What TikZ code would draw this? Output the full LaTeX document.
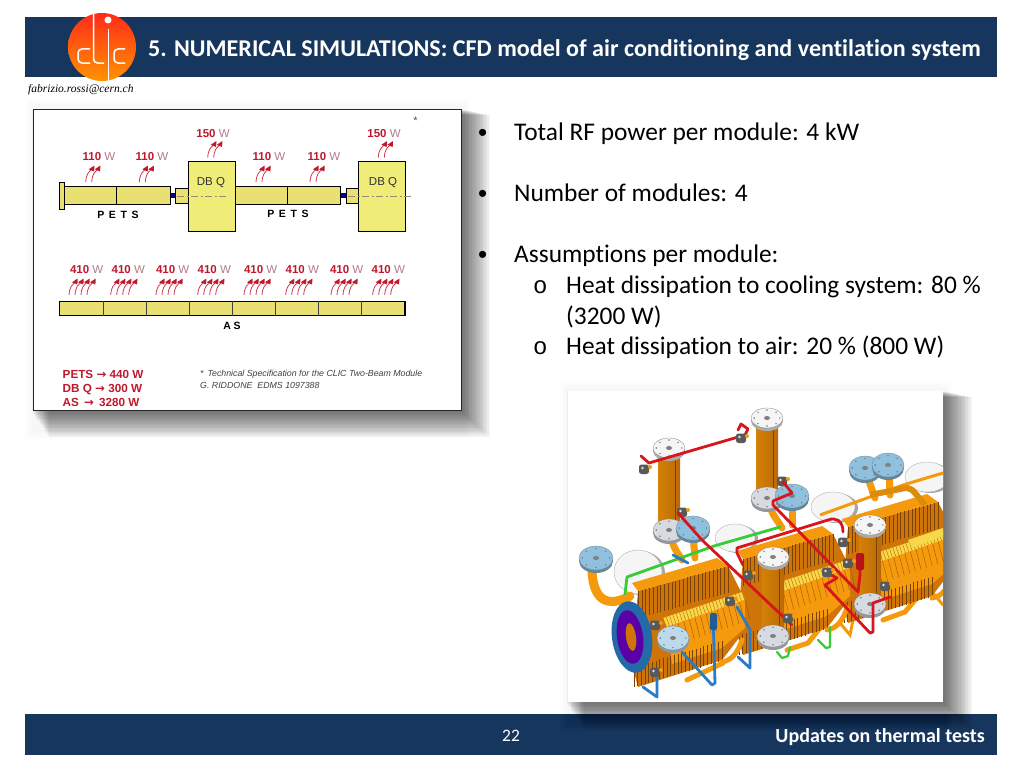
\documentclass[tikz,border=0pt]{standalone}
\usepackage{fontspec}
\setmainfont[Ligatures=NoCommon]{Carlito}
\newfontfamily\diagfont{Liberation Sans}
\newfontfamily\mailfont{Liberation Serif}
\newfontfamily\monofont{Liberation Mono}
\newfontfamily\arrowfont{DejaVu Sans}
\usetikzlibrary{calc}
\definecolor{barblue}{HTML}{17365D}
\definecolor{heatred}{HTML}{C0182C}
\definecolor{unitgray}{HTML}{B07C88}
\definecolor{petsyellow}{HTML}{E8E070}
\definecolor{dbqyellow}{HTML}{F0EC78}
\definecolor{orangetop}{HTML}{F59A0C}
\definecolor{orangeface}{HTML}{CF7408}
\definecolor{ridgedark}{HTML}{7A4204}
\definecolor{coilyellow}{HTML}{F6D84A}
\definecolor{flangeblue}{HTML}{8FC1DE}
\definecolor{flangegray}{HTML}{D8DAE2}
\definecolor{pipered}{HTML}{D8141C}
\definecolor{pipegreen}{HTML}{35CC35}
\definecolor{pipeblue}{HTML}{2A7CC6}
\tikzset{
  bartext/.style={text=white,font=\bfseries\fontsize{#1}{#1}\selectfont,inner sep=0pt},
  bodytext/.style={anchor=base west,inner sep=0pt,font=\fontsize{25.4}{25.4}\selectfont},
  bullettext/.style={anchor=base west,inner sep=0pt,font=\diagfont\fontsize{26}{26}\selectfont},
  subbullet/.style={anchor=base west,inner sep=0pt,font=\monofont\fontsize{24}{24}\selectfont},
  difftext/.style={inner sep=0pt,font=\diagfont\fontsize{#1}{#1}\selectfont},
  wattnum/.style={difftext=11.5,text=heatred},
  heatarrow/.style={draw=heatred!85!white,line width=.8pt},
  part/.style={draw=black,line width=.9pt,fill=petsyellow},
  sumtext/.style={text=heatred,anchor=base west,inner sep=0pt,font=\diagfont\bfseries\fontsize{11.7}{11.7}\selectfont},
  lettered/.style={inner sep=0pt,font=\diagfont\bfseries\fontsize{10.5}{10.5}\selectfont},
  reftext/.style={difftext=8.8,text=black!75,anchor=west,font=\diagfont\itshape\fontsize{8.8}{8.8}\selectfont},
  pipe/.style={line width=2.8pt,line cap=round,line join=round,#1},
  wave/.style={line width=7pt,orangetop,line cap=round},
}
% soft drop shadow, then the picture goes on top
\newcommand{\softshadow}[4]{
  \foreach \k in {0,...,7}
    \fill[black,opacity=.005] ({#1-8+\k},{#2-10+\k}) rectangle ({#3+10-\k},{#4+30-\k});
  \foreach \k in {0,...,19}
    \fill[black,opacity=.037] ({#1+16-.9*\k},{#2+6-.3*\k}) rectangle ({#3+29-1.4*\k},{#4+27-1.3*\k});
}
\newcommand{\heatarrows}[3]{% x, y, number of arrows
  \foreach \n in {1,...,#3}
    \draw[heatarrow] ({#1+(\n-1)*6},#2) .. controls ({#1+(\n-1)*6+.5},#2-8) and ({#1+(\n-1)*6+3},#2-10) .. ({#1+(\n-1)*6+6.5},#2-13);
  \foreach \n in {1,...,#3}
    \fill[heatred] ({#1+(\n-1)*6+8.7},#2-16.5) -- ({#1+(\n-1)*6+8.4},#2-10.5) -- ({#1+(\n-1)*6+3},#2-12.7) -- cycle;
}
\newcommand{\flange}[5]{% x, y, rx, ry, colour
  \fill[#5!70!black] (#1,#2+3) ellipse ({#3pt} and {#4pt});
  \fill[#5,draw=gray,line width=.3pt] (#1,#2) ellipse ({#3pt} and {#4pt});
  \foreach \a in {0,45,...,315}
    \fill[black!55] ({#1+.8*#3*cos(\a)},{#2+.8*#4*sin(\a)}) circle (.8pt);
  \fill[gray] (#1,#2) ellipse (3pt and 2pt);
}
\newcommand{\disc}[4]{
  \fill[gray!70] (#1+3,#2+1) ellipse ({#3pt} and {#4pt});
  \fill[white!92!gray,draw=gray!60,line width=.4pt] (#1,#2) ellipse ({#3pt} and {#4pt});
}
\newcommand{\column}[3]{% x, top y, bottom y
  \shade[left color=orangeface!90!yellow,right color=orangeface!90!black] (#1-11,#2) rectangle (#1+11,#3);
  \draw[ridgedark,line width=.4pt] (#1+6,#2) -- (#1+6,#3);
  \flange{#1}{#3+3}{16}{11}{flangegray}
  \flange{#1}{#2}{16}{10}{white!92!gray}
}
\newcommand{\valve}[2]{
  \fill[gray!70!black,rounded corners=2.5pt] (#1-5,#2-4.5) rectangle (#1+5,#2+5);
  \fill[gray!25] (#1-1.5,#2-1) circle (1.4pt);
  \fill[orangetop] (#1+6,#2-2) circle (2pt);
}
\newcommand{\ridges}[6]{% lines of height #5 between two points
  \foreach \t in {0,...,#6}
    \draw[ridgedark,line width=.38pt] ({#1+(#3-#1)*\t/#6},{#2+(#4-#2)*\t/#6}) -- ++(0,#5);
}
\begin{document}
\begin{tikzpicture}[x=1pt,y=-1pt]
  \useasboundingbox (0,0) rectangle (1024,768);
  % bars
  \fill[barblue] (25,17) rectangle (997,77);
  \fill[barblue] (25,714) rectangle (997,755);
  \shade[top color=red!85!orange!90!white,bottom color=orange!85!yellow] (102,47) circle (34);
  \draw[white,line width=1.5pt,rounded corners=4pt] (90,49) -- (78,49) -- (78,63) -- (90,63);
  \draw[white,line width=1.5pt,rounded corners=4pt] (93.5,13.5) -- (93.5,63) -- (104,63);
  \draw[white,line width=1.5pt] (108.5,29) -- (108.5,80.5);
  \fill[white] (108,20) circle (3.5);
  \draw[white,line width=1.5pt,rounded corners=4pt] (125,49) -- (114,49) -- (114,63) -- (125,63);
  \node[bartext=24.08,anchor=west] (title) at (148,50) {5. NUMERICAL SIMULATIONS: CFD model of air conditioning and ventilation system};
  \node[inner sep=0pt,anchor=west,font=\mailfont\itshape\fontsize{11.5}{11.5}\selectfont] (mail) at (28,90) {fabrizio.rossi@cern.ch};
  \node[text=white,inner sep=0pt,font=\fontsize{17.5}{17.5}\selectfont] (page) at (511,736) {22};
  \node[bartext=20,anchor=east] (footer) at (985,737) {Updates on thermal tests};

  % bullets
  \node[bullettext] (b1) at (478,141) {•};
  \node[bodytext] (t1) at (514,140) {Total RF power per module: 4 kW};
  \node[bullettext] (b2) at (478,202) {•};
  \node[bodytext] (t2) at (514,201) {Number of modules: 4};
  \node[bullettext] (b3) at (478,263) {•};
  \node[bodytext] (t3) at (514,262) {Assumptions per module:};
  \node[subbullet] (o1) at (533,293) {o};
  \node[bodytext] (t4) at (566,293) {Heat dissipation to cooling system: 80 \%};
  \node[bodytext] (t5) at (566,324) {(3200 W)};
  \node[subbullet] (o2) at (533,354) {o};
  \node[bodytext] (t6) at (566,354) {Heat dissipation to air: 20 \% (800 W)};

  % power table
  \softshadow{33}{109}{461}{410}
  \draw[fill=white,draw=black!85,line width=.8pt] (33,109) rectangle (461,410);
  \node[difftext=11,text=black!70] (star) at (415.5,121) {*};
  \draw[part] (59,182) rectangle (64.7,209);
  \draw[part] (64.7,186.7) rectangle (116.7,204.3);
  \draw[part] (116.7,186.7) rectangle (170,204.3);
  \fill[blue!55!black] (171,193) rectangle (175,198);
  \draw[part] (175,188) rectangle (188,203);
  \draw[part,fill=dbqyellow] (188,161) rectangle (235,231);
  \draw[part] (235,186.7) rectangle (287.3,204.3);
  \draw[part] (287.3,186.7) rectangle (340.7,204.3);
  \fill[blue!55!black] (341,193) rectangle (346,198);
  \draw[part] (346,188) rectangle (358.7,203);
  \draw[part,fill=dbqyellow] (358.7,161) rectangle (405.7,231);
  \draw[gray!80!olive,line width=.8pt,dash pattern=on 7pt off 2.5pt on 2pt off 2.5pt] (177,196) -- (227,196);
  \draw[gray!80!olive,line width=.8pt,dash pattern=on 7pt off 2.5pt on 2pt off 2.5pt] (348,196) -- (411,196);
  \node[difftext=11.5,text=black!80] (dbq1) at (211,183) {DB Q};
  \node[difftext=11.5,text=black!80] (dbq2) at (383,183) {DB Q};
  \node[lettered] (pets1) at (118,215) {P\;\,E\;\,T\;\,S};
  \node[lettered] (pets2) at (288,214) {P\;\,E\;\,T\;\,S};
  \foreach \x/\y/\val [count=\i] in {99/157/110,152/157/110,269/157/110,324/157/110,213/134/150,384/134/150}
    \node[wattnum] (heat\i) at (\x,\y) {\textbf{\val} \textcolor{unitgray}{W}};
  \foreach \x [count=\i] in {86.7,128.3,172.7,214.3,260.7,302.3,346.7,388.3}
    \node[wattnum] (acc\i) at (\x,270) {\textbf{410} \textcolor{unitgray}{W}};
  \foreach \x/\y in {85.7/182,139.3/182,256/182,310/182,207.7/157.5,378.3/157.5}
    {\heatarrows{\x}{\y}{2}}
  \foreach \x in {69,110.7,156,197.7,244,285.7,331,372.7}
    {\heatarrows{\x}{295}{4}}
  \draw[part] (59,301) rectangle (405.7,315.7);
  \draw[black,line width=1.6pt] (59.5,301) -- (59.5,315.7);
  \draw[black,line width=1.6pt] (405.2,301) -- (405.2,315.7);
  \foreach \x in {103.3,146,189,232.3,275,318.3,361.3}
    \draw[black!75,line width=.7pt] (\x,301) -- (\x,315.7);
  \node[lettered] (as) at (232,326) {A S};
  \node[sumtext] (sum1) at (62.5,378) {PETS {\arrowfont →} 440 W};
  \node[sumtext] (sum2) at (62.5,392) {DB Q {\arrowfont →} 300 W};
  \node[sumtext] (sum3) at (62.5,406) {AS \,{\arrowfont →}\, 3280 W};
  \node[reftext] (ref1) at (200,374.5) {*\, Technical Specification for the CLIC Two-Beam Module};
  \node[reftext] (ref2) at (200,385) {G. RIDDONE \ EDMS 1097388};

  % cooling module
  \softshadow{568}{391}{943}{702}
  \fill[white] (568,391) rectangle (943,702);
  \begin{scope}
    \clip (568,391) rectangle (943,702);
    \disc{927}{477}{22}{15}
    \disc{833}{507}{22}{15}
    \disc{735}{538}{20}{14}
    \disc{638}{572}{24}{22}
    \draw[wave] (865,470) -- (875,498);
    \draw[wave] (889,470) -- (890,495);
    \draw[wave] (792,505) -- (792,525);
    \draw[wave] (693,535) -- (695,558);
    \draw[wave] (770,505) to[out=-80,in=120] (782,528);
    \draw[wave] (672,540) to[out=-80,in=120] (682,560);
    \draw[wave,line width=9pt] (592,568) .. controls (592,590) and (600,612) .. (630,596);
    \column{767}{418}{495}
    \column{669}{448}{527}
    \flange{792}{496}{17}{12}{flangeblue}
    \flange{693}{528}{17}{12}{flangeblue}
    \flange{865}{468}{16}{12}{flangeblue}
    \flange{888}{465}{16}{12}{flangeblue}
    \flange{596}{558}{17}{12}{flangeblue}
    \draw[pipe=pipered] (641,456) -- (649,463) -- (745,435) -- (748,429) -- (741,424) -- (738,430);
    \valve{644}{469}
    \valve{741}{438}
    \valve{682}{512}
    \valve{782}{481}
    % tubes under the blocks
    \draw[wave,line width=3pt] (840,623) -- (850,635) -- (853,620);
    \draw[wave,line width=3pt] (933,593) -- (943,605);
    \draw[wave,line width=5pt] (883,620) -- (905,612) -- (915,600);
    \draw[wave,line width=5pt] (787,650) -- (808,643) -- (820,628);
    \foreach \k in {2,1,0} {
      \begin{scope}[shift={({105*\k},{-32*\k})}]
        \fill[orangeface] (638,591) -- (728,566) -- (745,600) -- (745,630) -- (722,660) -- (638,687) -- (632,665) -- cycle;
        \fill[orangetop] (632,583) -- (717,558) -- (728,566) -- (638,591) -- cycle;
        \ridges{638}{591}{728}{566}{27}{24}
        \fill[coilyellow] (663,618) -- (742,592) -- (745,600) -- (667,627) -- cycle;
        \foreach \t in {0,...,24}
          \draw[orangeface,line width=.5pt] ({663+79*\t/24},{618-26*\t/24}) -- ++(3,9);
        \fill[orangetop] (667,627) -- (745,600) -- (745,628) -- (722,648) -- (672,664) -- cycle;
        \foreach \t in {0,...,14}
          \draw[ridgedark!70!orangeface,line width=.35pt] ({667+78*\t/14},{627-27*\t/14}) -- ++(5,20);
        \ridges{634}{667}{722}{641}{20}{24}
        \draw[wave,line width=5pt] (722,662) to[out=10,in=-110] (742,640);
      \end{scope}
    }
    \draw[orangetop,line width=3pt] (820,515) -- (903,485) -- (943,473);
    \draw[orangetop!90!black,line width=6pt,rounded corners=6pt] (870,495) -- (910,487) -- (925,505);
    \draw[wave,line width=5pt] (687,680) -- (723,663);
    \fill[coilyellow] (908,540) -- (943,528) -- (943,536) -- (912,548) -- cycle;
    \draw[pipe=pipegreen] (780,527) -- (714,546) -- (627,577) -- (625,594);
    \draw[pipe=pipegreen,line width=2.2pt] (777,652) -- (782,658) -- (788,656) -- (790,647);
    \draw[pipe=pipegreen,line width=2.2pt] (818,640) -- (826,648) -- (830,647) -- (830,627);
    \column{870}{525}{601}
    \column{773}{557}{633}
    \draw[pipe=pipered] (678,513) -- (702,540) -- (792,625);
    \draw[pipe=pipered] (783,482) -- (792,493) -- (773,501) -- (773,505) -- (858,592) -- (860,575) -- (860,558);
    \draw[pipe=pipered] (843,532) .. controls (843,520) and (835,517) .. (828,520) -- (737,548) -- (737,553) -- (743,565);
    \draw[pipe=pipered] (827,573) -- (837,578) -- (825,585) -- (870,633) -- (873,632) -- (873,603) -- (890,597);
    \fill[pipered!85!black,rounded corners=1.5pt] (856,553) rectangle (864,570);
    \valve{748}{575}
    \valve{843}{542}
    \valve{827}{572}
    \valve{848}{563}
    \valve{885}{586}
    \valve{788}{618}
    \draw[pipe=pipeblue] (673,555) -- (688,563);
    \draw[pipe=pipeblue] (737,607) -- (750,630) -- (750,668) -- (738,657);
    \draw[pipe=pipeblue] (713,615) -- (715,683) -- (712,685) -- (682,652);
    \draw[pipe=pipeblue] (657,677) -- (657,697) -- (643,687);
    \fill[pipeblue!75!black,rounded corners=2pt] (710,613) rectangle (717,630);
    \valve{730}{601}
    \fill[pipeblue!85!black,rotate around={8:(632,637)}] (632,637) ellipse (20pt and 36pt);
    \fill[violet!70!blue,rotate around={8:(630,637)}] (630,637) ellipse (13pt and 27pt);
    \fill[orangeface,rotate around={8:(631,637)}] (631,637) ellipse (5pt and 14pt);
    \valve{655}{625}
    \valve{655}{672}
    \flange{673}{638}{16}{12}{flangeblue!60!white}
  \end{scope}
\end{tikzpicture}
\end{document}
